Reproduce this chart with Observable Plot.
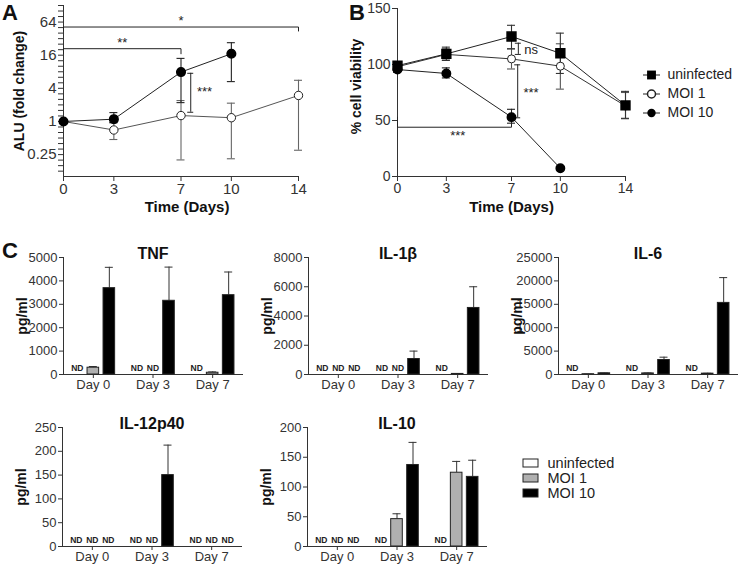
<!DOCTYPE html>
<html>
<head>
<meta charset="utf-8">
<script src="https://cdn.jsdelivr.net/npm/d3@7"></script>
<script src="https://cdn.jsdelivr.net/npm/@observablehq/plot@0.6"></script>
<style>
  html, body { margin: 0; padding: 0; background: #fff; }
  #root { position: relative; width: 742px; height: 566px; overflow: hidden; font-family: "Liberation Sans", Arial, sans-serif; color: #111; }
  .pane { position: absolute; }
  .letter { position: absolute; font-weight: bold; font-size: 22px; line-height: 1; }
</style>
</head>
<body>
<div id="root"></div>
<script>
// ---------------- DATA ----------------
// Panel A: luciferase (ALU fold change), log2 axis
const daysA = [0, 3, 7, 10, 14];
const moi10A     = [1, 1.1, 7.9, 17, null];
const moi10ALow  = [null, 0.95, 2.2, 5.3, null];
const moi10AHigh = [null, 1.45, 14, 27, null];
const moi1A      = [1, 0.7, 1.28, 1.17, 2.97];
const moi1ALow   = [null, 0.47, 0.2, 0.21, 0.3];
const moi1AHigh  = [null, 0.95, 2.4, 2.15, 5.6];
const yTicksA = [0.25, 1, 4, 16, 64];
const xTicksDays = [0, 3, 7, 10, 14];

// Panel B: % cell viability
const seriesB = ["uninfected", "MOI 1", "MOI 10"];
const daysB = [0, 3, 7, 10, 14];
const uninfB     = [99, 109.5, 125, 110, 63.5];
const uninfBLow  = [96, 103.6, 114, 92, 51.6];
const uninfBHigh = [102, 115.5, 135, 128, 76];
const moi1B      = [98, 109, 105, 98.5, 63];
const moi1BLow   = [95, 104, 96, 78, 52];
const moi1BHigh  = [101, 114, 114, 118.5, 75];
const moi10B     = [95.5, 92, 53, 7.4, null];
const moi10BLow  = [93, 88, 47.6, null, null];
const moi10BHigh = [98, 97, 60, null, null];
const yTicksB = [0, 50, 100, 150];

// Significance annotations
const bracketsA = [
  {label: "*",  from: 0, to: 14, level: 52, drop: 44, labelX: 7},
  {label: "**", from: 0, to: 7,  level: 21, drop: 17, labelX: 3.5}
];
const vBracketsA = [{label: "***", at: 7.58, low: 1.47, high: 7.5, labelX: 8.4, labelY: 3.4}];
const bracketsB = [{label: "***", from: 0, to: 7, level: 44, drop: 53, labelX: 3.7, labelY: 36}];
const vBracketsB = [
  {label: "ns",  at: 7.42, low: 109, high: 119, labelX: 8.2, labelY: 113},
  {label: "***", at: 7.38, low: 52.4, high: 99.7, labelX: 8.2, labelY: 75}
];

// Panel C: cytokines (rows = days, columns = uninfected, MOI 1, MOI 10); null = ND
const cytoDays = ["Day 0", "Day 3", "Day 7"];
const groups = ["uninfected", "MOI 1", "MOI 10"];
const tnfMean  = [[null, 290, 3690], [null, null, 3150], [null, 75, 3390]];
const tnfHigh  = [[null, 340, 4580], [null, null, 4590], [null, 110, 4380]];
const il1bMean = [[null, null, null], [null, null, 1060], [null, 40, 4550]];
const il1bHigh = [[null, null, null], [null, null, 1600], [null, 60, 6000]];
const il6Mean  = [[null, 60, 250], [null, 230, 3100], [null, 180, 15300]];
const il6High  = [[null, 80, 300], [null, 320, 3700], [null, 260, 20700]];
const il12Mean = [[null, null, null], [null, null, 150], [null, null, null]];
const il12High = [[null, null, null], [null, null, 213], [null, null, null]];
const il10Mean = [[null, null, null], [null, 46, 137], [null, 124, 117]];
const il10High = [[null, null, null], [null, 55, 175], [null, 143, 145]];

// ---------------- HELPERS ----------------
const root = document.getElementById("root");
function place(node, left, top) {
  const d = document.createElement("div");
  d.className = "pane";
  d.style.left = left + "px";
  d.style.top = top + "px";
  d.appendChild(node);
  root.appendChild(d);
}
function letter(t, left, top) {
  const d = document.createElement("div");
  d.className = "letter";
  d.textContent = t;
  d.style.left = left + "px";
  d.style.top = top + "px";
  root.appendChild(d);
}
const style = (fs) => ({fontFamily: '"Liberation Sans", Arial, sans-serif', fontSize: fs + "px", color: "#333", background: "transparent", overflow: "visible"});
const plain = d => String(d);

function rows(days, mean, low, high) {
  return days.map((x, i) => ({x, y: mean[i], low: low[i], high: high[i]})).filter(d => d.y != null);
}
function errMarks(data, cap, stroke) {
  const e = data.filter(d => d.low != null);
  return [
    Plot.ruleX(e, {x: "x", y1: "low", y2: "high", stroke, strokeWidth: 1.1}),
    Plot.ruleY(e, {y: "low", x1: d => d.x - cap, x2: d => d.x + cap, stroke, strokeWidth: 1.1}),
    Plot.ruleY(e, {y: "high", x1: d => d.x - cap, x2: d => d.x + cap, stroke, strokeWidth: 1.1})
  ];
}
function hBracket(list) {
  const pts = list.flatMap(b => [
    {k: b.label, x: b.from, y: b.drop}, {k: b.label, x: b.from, y: b.level},
    {k: b.label, x: b.to, y: b.level}, {k: b.label, x: b.to, y: b.drop}
  ]);
  return Plot.line(pts, {x: "x", y: "y", z: "k", stroke: "#222", strokeWidth: 1});
}
function vBracket(list, cap) {
  return [
    Plot.ruleX(list, {x: "at", y1: "low", y2: "high", stroke: "#222"}),
    Plot.ruleY(list, {y: "low", x1: d => d.at - cap, x2: d => d.at + cap, stroke: "#222"}),
    Plot.ruleY(list, {y: "high", x1: d => d.at - cap, x2: d => d.at + cap, stroke: "#222"}),
    Plot.text(list, {x: "labelX", y: "labelY", text: "label", fontSize: 13, fill: "#222"})
  ];
}

// ---------------- PANEL A ----------------
const minorA = d3.range(-10, 22).map(k => 2 ** (k / 3)).filter(v => v >= 0.1 && v <= 128);
const isMajorA = v => yTicksA.some(t => Math.abs(t - v) < 1e-9);
const rowsA10 = rows(daysA, moi10A, moi10ALow, moi10AHigh);
const rowsA1 = rows(daysA, moi1A, moi1ALow, moi1AHigh);
const capA = 4 / 16.8;

const plotA = Plot.plot({
  width: 340, height: 222, marginLeft: 63, marginRight: 42, marginTop: 5, marginBottom: 46,
  style: style(15),
  x: {domain: [0, 14], ticks: xTicksDays, tickFormat: plain, tickSize: 5, tickPadding: 2, line: true, label: null},
  y: {type: "log", base: 2, domain: [0.1, 128], ticks: minorA, tickFormat: d => isMajorA(d) ? String(d) : "", tickSize: 5, tickPadding: 2, line: true, label: null},
  marks: [
    hBracket(bracketsA),
    Plot.text(bracketsA, {x: "labelX", y: "level", text: "label", dy: -6, fontSize: 13, fill: "#222"}),
    ...vBracket(vBracketsA, 3 / 16.8),
    ...errMarks(rowsA1, capA, "#666"),
    ...errMarks(rowsA10, capA, "#222"),
    Plot.line(rowsA1, {x: "x", y: "y", stroke: "#555", strokeWidth: 1}),
    Plot.line(rowsA10, {x: "x", y: "y", stroke: "#222", strokeWidth: 1}),
    Plot.dot(rowsA1, {x: "x", y: "y", r: 4.2, fill: "white", stroke: "#222", strokeWidth: 1}),
    Plot.dot(rowsA10, {x: "x", y: "y", r: 4.3, fill: "black", stroke: "black"}),
    Plot.text(["ALU (fold change)"], {frameAnchor: "left", textAnchor: "middle", lineAnchor: "middle", dx: -44, rotate: -90, fontSize: 14, fontWeight: "bold", fill: "#111"}),
    Plot.text(["Time (Days)"], {frameAnchor: "bottom", textAnchor: "middle", lineAnchor: "middle", dy: 31, dx: 6, fontSize: 15, fontWeight: "bold", fill: "#111"})
  ]
});
place(plotA, 0, 0);
letter("A", 2, 2);

// ---------------- PANEL B ----------------
const rowsBU = rows(daysB, uninfB, uninfBLow, uninfBHigh);
const rowsB1 = rows(daysB, moi1B, moi1BLow, moi1BHigh);
const rowsB10 = rows(daysB, moi10B, moi10BLow, moi10BHigh);
const capB = 4 / 16.3;

const plotB = Plot.plot({
  width: 402, height: 222, marginLeft: 57, marginRight: 117, marginTop: 8, marginBottom: 46,
  style: style(14),
  x: {domain: [0, 14], ticks: xTicksDays, tickFormat: plain, tickSize: 5, tickPadding: 2, line: true, label: null},
  y: {domain: [0, 150], ticks: yTicksB, tickFormat: plain, tickSize: 5, tickPadding: 2, line: true, label: null},
  marks: [
    hBracket(bracketsB),
    Plot.text(bracketsB, {x: "labelX", y: "labelY", text: "label", fontSize: 13, fill: "#222"}),
    ...vBracket(vBracketsB, 3 / 16.3),
    ...errMarks(rowsB1, capB, "#555"),
    ...errMarks(rowsBU, capB, "#333"),
    ...errMarks(rowsB10, capB, "#222"),
    Plot.line(rowsB1, {x: "x", y: "y", stroke: "#333", strokeWidth: 1}),
    Plot.line(rowsBU, {x: "x", y: "y", stroke: "#222", strokeWidth: 1}),
    Plot.line(rowsB10, {x: "x", y: "y", stroke: "#222", strokeWidth: 1}),
    Plot.dot(rowsB1, {x: "x", y: "y", r: 4, fill: "white", stroke: "#222", strokeWidth: 1}),
    Plot.dot(rowsBU, {x: "x", y: "y", r: 5, symbol: "square", fill: "black", stroke: "black"}),
    Plot.dot(rowsB10, {x: "x", y: "y", r: 4.2, fill: "black", stroke: "black"}),
    Plot.text(["% cell viability"], {frameAnchor: "left", textAnchor: "middle", lineAnchor: "middle", dx: -41, dy: -6, rotate: -90, fontSize: 14, fontWeight: "bold", fill: "#111"}),
    Plot.text(["Time (Days)"], {frameAnchor: "bottom", textAnchor: "middle", lineAnchor: "middle", dy: 31, fontSize: 15, fontWeight: "bold", fill: "#111"})
  ]
});
place(plotB, 340, 0);
letter("B", 349, 2);

// Legend B (band scale: step 19.5 px)
const legB = Plot.plot({
  width: 102, height: 62, marginTop: 2, marginBottom: 1.5, marginLeft: 0, marginRight: 0,
  style: style(14),
  x: {domain: [0, 102], axis: null},
  y: {type: "band", domain: seriesB, paddingInner: 0, paddingOuter: 0, axis: null},
  marks: [
    Plot.ruleY(seriesB, {y: d => d, x1: 3, x2: 20, stroke: "#222"}),
    Plot.dot([seriesB[0]], {x: 11, y: d => d, r: 5, symbol: "square", fill: "black"}),
    Plot.dot([seriesB[1]], {x: 11, y: d => d, r: 4, fill: "white", stroke: "#222"}),
    Plot.dot([seriesB[2]], {x: 11, y: d => d, r: 4.2, fill: "black"}),
    Plot.text(seriesB, {x: 27, y: d => d, text: d => d, textAnchor: "start", fontSize: 14, fill: "#222"})
  ]
});
place(legB, 640, 62);

// ---------------- PANEL C ----------------
const pxPerUnit = 179 / 3;
const groupOff = 16 / pxPerUnit, barHalf = 5.8 / pxPerUnit, capHalf = 4 / pxPerUnit;
const fills = ["white", "#b0b0b0", "black"];

function barChart(title, mean, high, yMax, yStep, w, ml, bottomRow) {
  const data = [];
  cytoDays.forEach((day, i) => groups.forEach((g, j) => data.push({i, j, day, group: g, mean: mean[i][j], high: high[i][j]})));
  const pos = r => r.i + (r.j - 1) * groupOff;
  const measured = data.filter(r => r.mean != null);
  const nd = data.filter(r => r.mean == null);
  const withErr = measured.filter(r => r.high != null);
  return Plot.plot({
    width: w, height: bottomRow ? 156 : 155, marginLeft: ml, marginRight: w - ml - 179, marginTop: 17, marginBottom: bottomRow ? 20 : 21,
    style: style(13),
    x: {domain: [-0.5, 2.5], ticks: [0, 1, 2], tickFormat: i => cytoDays[i], tickSize: 4, tickPadding: 1, line: true, label: null},
    y: {domain: [0, yMax], ticks: d3.range(0, yMax + 1, yStep), tickFormat: plain, tickSize: 4, tickPadding: 2, line: true, label: null},
    marks: [
      Plot.ruleX(withErr, {x: pos, y1: "mean", y2: "high", stroke: "#333"}),
      Plot.ruleY(withErr, {y: "high", x1: r => pos(r) - capHalf, x2: r => pos(r) + capHalf, stroke: "#333"}),
      ...[0, 1, 2].map(j => Plot.rect(measured.filter(r => r.j === j), {x1: r => pos(r) - barHalf, x2: r => pos(r) + barHalf, y1: 0, y2: "mean", fill: fills[j], stroke: "#222", strokeWidth: 1})),
      Plot.text(nd, {x: pos, y: 0, text: () => "ND", dy: -6, fontSize: 8.5, fontWeight: "bold", fill: "#222"}),
      Plot.text([title], {frameAnchor: "top", textAnchor: "middle", lineAnchor: "middle", dy: -4, fontSize: 16, fontWeight: "bold", fill: "#111"}),
      Plot.text(["pg/ml"], {frameAnchor: "left", textAnchor: "middle", lineAnchor: "middle", dx: -41, rotate: -90, fontSize: 14, fontWeight: "bold", fill: "#111"})
    ]
  });
}

place(barChart("TNF", tnfMean, tnfHigh, 5000, 1000, 245, 63, false), 0, 240);
place(barChart("IL-1β", il1bMean, il1bHigh, 8000, 2000, 245, 63, false), 245, 240);
place(barChart("IL-6", il6Mean, il6High, 25000, 5000, 252, 68, false), 490, 240);
place(barChart("IL-12p40", il12Mean, il12High, 250, 50, 245, 62, true), 0, 410);
place(barChart("IL-10", il10Mean, il10High, 200, 50, 245, 62, true), 245, 410);
letter("C", 2, 240);

// Legend C
const legC = Plot.plot({
  width: 120, height: 52, marginTop: 3.5, marginBottom: 3.5, marginLeft: 3, marginRight: 0,
  style: style(15),
  x: {domain: [0, 117], axis: null},
  y: {type: "band", domain: groups, paddingInner: 0.45, paddingOuter: 0.225, axis: null},
  marks: [
    ...[0, 1, 2].map(j => Plot.barX([groups[j]], {y: d => d, x1: 0, x2: 15, fill: fills[j], stroke: "#222"})),
    Plot.text(groups, {x: 24, y: d => d, text: d => d, textAnchor: "start", fontSize: 14.5, fill: "#222"})
  ]
});
place(legC, 520, 452);
</script>
</body>
</html>
